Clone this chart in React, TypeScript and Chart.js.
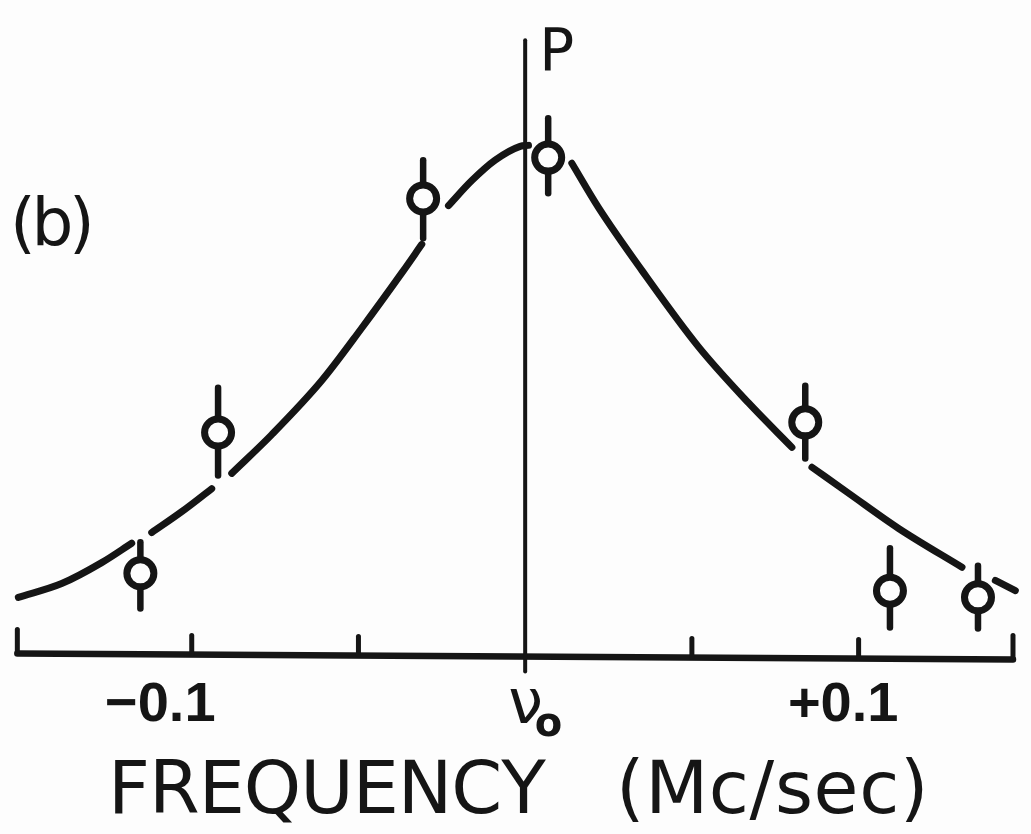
import React, { useEffect, useRef } from "react";
import { Chart, registerables } from "chart.js";

Chart.register(...registerables);

// Frequency offsets from ν0 (Mc/sec) and relative intensity of the measured points
const pointFreq = [-0.1154, -0.0921, -0.0306, 0.0069, 0.084, 0.1094, 0.1358];
const pointLevel = [16.1, 43.7, 89.6, 97.6, 45.7, 12.7, 11.4];
const errHigh = [22.2, 52.5, 97.1, 105.3, 52.9, 21.0, 17.6];
const errLow = [9.2, 35.3, 81.8, 90.6, 38.6, 5.5, 5.3];

// Fitted resonance curve (null = pen lifted where the curve passes a point)
const curveFreq = [
  -0.152, -0.139, -0.127, -0.118, -0.115, -0.112, -0.103, -0.094, -0.091,
  -0.088, -0.076, -0.061, -0.049, -0.037, -0.031, -0.027, -0.023, -0.016,
  -0.009, -0.0015, 0.001, 0.007, 0.014, 0.022, 0.035, 0.052, 0.067, 0.08,
  0.083, 0.086, 0.097, 0.112, 0.131, 0.136, 0.141, 0.147,
];
const curveLevel = [
  11.4, 14.1, 18.2, 22.0, null, 24.1, 28.2, 32.7, null,
  35.7, 43.3, 53.9, 64.2, 75.0, 80.6, null, 88.2, 93.1,
  97.1, 99.8, 100, null, 96.5, 87.8, 75.5, 60.5, 49.5, 40.8,
  null, 36.9, 31.8, 24.9, 17.3, null, 14.7, 12.7,
];

// Axis
const axisStart = -0.1523;
const axisEnd = 0.1463;
const tickValues = [-0.1, -0.05, 0.05, 0.1];
const tickLabels = ["\u22120.1", "+0.1"];
const labelValues = [-0.1, 0.1];
const centerTop = 120.6;

const xLabel = "FREQUENCY";
const xUnit = "(Mc/sec)";
const panelTag = "(b)";
const lineTag = "P";

const INK = "#151515";
const PAPER = "#fdfdfd";
const FONT = "'DejaVu Sans', sans-serif";
const TICK_FONT = "'Liberation Sans', 'DejaVu Sans', sans-serif";

// Draw text so that its ink spans [left, right], spreading or tightening letters evenly
function fitText(ctx: CanvasRenderingContext2D, text: string, left: number, right: number, baseline: number) {
  ctx.textAlign = "left";
  const m = ctx.measureText(text);
  const natural = m.actualBoundingBoxLeft + m.actualBoundingBoxRight;
  const n = text.length;
  const s = n > 1 ? (right - left - natural) / (n - 1) : 0;
  let x = left + m.actualBoundingBoxLeft;
  for (const ch of text) {
    ctx.fillText(ch, x, baseline);
    x += ctx.measureText(ch).width + s;
  }
}

// Draw text with its ink centred on cx
function centerInk(ctx: CanvasRenderingContext2D, text: string, cx: number, baseline: number) {
  ctx.textAlign = "left";
  const m = ctx.measureText(text);
  const w = m.actualBoundingBoxLeft + m.actualBoundingBoxRight;
  ctx.fillText(text, cx - w / 2 + m.actualBoundingBoxLeft, baseline);
}

const decor = {
  id: "decor",
  beforeDatasetsDraw(chart: any) {
    const { ctx } = chart;
    const x = chart.scales.x;
    const y = chart.scales.y;
    const xl = x.getPixelForValue(axisStart);
    const xr = x.getPixelForValue(axisEnd);
    const y0 = y.getPixelForValue(0);
    const axisY = (px: number) => y0 - 2 + ((px - xl) / (xr - xl)) * 6;
    ctx.save();
    ctx.strokeStyle = INK;
    ctx.lineCap = "round";

    // baseline
    ctx.lineWidth = 6.5;
    ctx.beginPath();
    ctx.moveTo(xl, axisY(xl));
    ctx.lineTo(xr, axisY(xr));
    ctx.stroke();

    // end marks and ticks (pointing up)
    ctx.lineWidth = 5;
    for (const px of [xl, xr]) {
      ctx.beginPath();
      ctx.moveTo(px, axisY(px));
      ctx.lineTo(px, axisY(px) - 24);
      ctx.stroke();
    }
    for (const v of tickValues) {
      const px = x.getPixelForValue(v);
      ctx.beginPath();
      ctx.moveTo(px, axisY(px));
      ctx.lineTo(px, axisY(px) - 19);
      ctx.stroke();
    }

    // centre line at ν0
    const x0 = x.getPixelForValue(0);
    ctx.lineWidth = 4;
    ctx.beginPath();
    ctx.moveTo(x0, y.getPixelForValue(centerTop));
    ctx.lineTo(x0, axisY(x0) + 15);
    ctx.stroke();

    // error bars
    ctx.lineWidth = 6.5;
    for (let i = 0; i < pointFreq.length; i++) {
      const px = x.getPixelForValue(pointFreq[i]);
      ctx.beginPath();
      ctx.moveTo(px, y.getPixelForValue(errHigh[i]));
      ctx.lineTo(px, y.getPixelForValue(errLow[i]));
      ctx.stroke();
    }
    ctx.restore();
  },
  afterDatasetsDraw(chart: any) {
    const { ctx } = chart;
    const x = chart.scales.x;
    const x0 = x.getPixelForValue(0);
    ctx.save();
    ctx.fillStyle = INK;
    ctx.textBaseline = "alphabetic";

    // tick labels
    ctx.font = `bold 56px ${TICK_FONT}`;
    const nudge = [-31, -15];
    labelValues.forEach((v, i) => {
      centerInk(ctx, tickLabels[i], x.getPixelForValue(v) + nudge[i], 721);
    });

    // ν0
    ctx.font = `62px ${FONT}`;
    centerInk(ctx, "\u03BD", x0, 723);
    ctx.font = `bold 40px ${FONT}`;
    centerInk(ctx, "o", x0 + 23, 736);

    // axis title
    ctx.font = `73px ${FONT}`;
    fitText(ctx, xLabel, 115, 545, 813);
    fitText(ctx, xUnit, 622, 923, 813);

    // panel tag and line marker
    ctx.font = `66px ${FONT}`;
    fitText(ctx, panelTag, 15, 90, 245);
    ctx.font = `58px ${FONT}`;
    ctx.textAlign = "left";
    const pm = ctx.measureText(lineTag);
    ctx.fillText(lineTag, x0 + 19 + pm.actualBoundingBoxLeft, 70);
    ctx.restore();
  },
};

export default function App() {
  const canvasRef = useRef<HTMLCanvasElement | null>(null);

  useEffect(() => {
    document.body.style.margin = "0";
    document.body.style.background = PAPER;
    const canvas = canvasRef.current;
    if (!canvas) return;
    const chart = new Chart(canvas, {
      type: "line",
      data: {
        datasets: [
          {
            data: curveFreq.map((f, i) => ({ x: f, y: curveLevel[i] })) as any,
            borderColor: INK,
            borderWidth: 7,
            borderCapStyle: "round",
            pointRadius: 0,
            cubicInterpolationMode: "monotone",
            spanGaps: false,
            fill: false,
            clip: false as any,
          },
          {
            data: pointFreq.map((f, i) => ({ x: f, y: pointLevel[i] })),
            showLine: false,
            pointRadius: 13.5,
            pointBorderWidth: 7,
            pointBackgroundColor: PAPER,
            pointBorderColor: INK,
            borderColor: INK,
            clip: false as any,
          },
        ],
      },
      options: {
        responsive: false,
        devicePixelRatio: 1,
        animation: false,
        layout: { padding: 0, autoPadding: false },
        plugins: { legend: { display: false }, tooltip: { enabled: false } },
        events: [],
        scales: {
          x: { type: "linear", min: -0.1575, max: 0.1517, display: false },
          y: { type: "linear", min: -35, max: 128.5, display: false },
        },
      },
      plugins: [decor],
    });
    return () => chart.destroy();
  }, []);

  return (
    <div style={{ width: 1031, height: 834, background: PAPER }}>
      <canvas ref={canvasRef} width={1031} height={834} style={{ display: "block" }} />
    </div>
  );
}
